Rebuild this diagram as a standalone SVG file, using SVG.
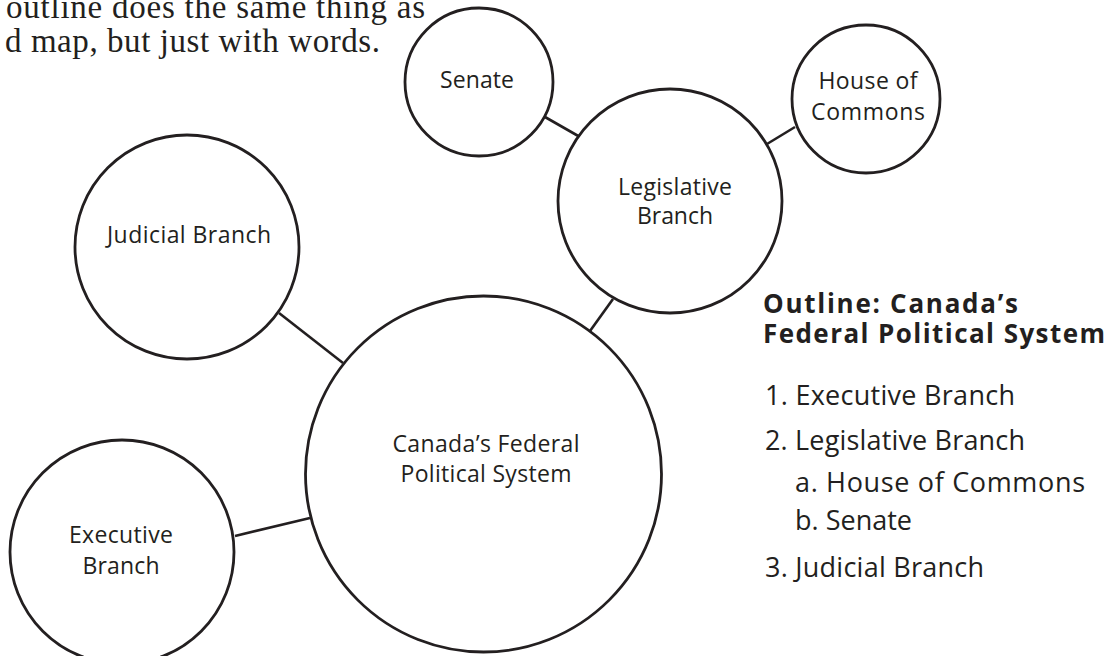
<svg xmlns="http://www.w3.org/2000/svg" width="1114" height="656" viewBox="0 0 1114 656">
<style>
.c{fill:#fff;stroke:#231f20;stroke-width:2.8}
.l{stroke:#231f20;stroke-width:2.6;fill:none}
.t{font-family:"Open Sans","Noto Sans",sans-serif;font-size:23px;fill:#231f20;text-anchor:middle}
.s{font-family:"Liberation Serif","Times New Roman",serif;font-size:33px;fill:#231f20}
.h{font-family:"Open Sans","Noto Sans",sans-serif;font-size:26px;font-weight:bold;fill:#231f20}
.o{font-family:"Open Sans","Noto Sans",sans-serif;font-size:27px;fill:#231f20}
</style>
<rect width="1114" height="656" fill="#fff"/>
<g id="intro">
<text class="s" x="6" y="18" textLength="419" lengthAdjust="spacing">outline does the same thing as</text>
<text class="s" x="5" y="52" textLength="375" lengthAdjust="spacing">d map, but just with words.</text>
</g>
<g id="connectors">
<line class="l" x1="545" y1="117" x2="580" y2="137"/>
<line class="l" x1="767" y1="144" x2="795" y2="127"/>
<line class="l" x1="279" y1="313" x2="343" y2="363"/>
<line class="l" x1="613" y1="299" x2="590" y2="331"/>
<line class="l" x1="235" y1="536" x2="310" y2="518"/>
</g>
<g id="senate">
<circle class="c" cx="479" cy="82" r="74"/>
<text class="t" x="477" y="88" textLength="74">Senate</text>
</g>
<g id="house">
<circle class="c" cx="866" cy="99" r="74"/>
<text class="t" x="868" y="89" textLength="99">House of</text>
<text class="t" x="868" y="120" textLength="114">Commons</text>
</g>
<g id="legislative">
<circle class="c" cx="670" cy="201" r="112"/>
<text class="t" x="675" y="195" textLength="114">Legislative</text>
<text class="t" x="675" y="224" textLength="76">Branch</text>
</g>
<g id="judicial">
<circle class="c" cx="187" cy="247" r="112"/>
<text class="t" x="189" y="243" textLength="164">Judicial Branch</text>
</g>
<g id="executive">
<circle class="c" cx="122" cy="552" r="112"/>
<text class="t" x="121" y="543" textLength="104">Executive</text>
<text class="t" x="121" y="574" textLength="77">Branch</text>
</g>
<g id="federal">
<circle class="c" cx="483.5" cy="474" r="178"/>
<text class="t" x="486" y="452" textLength="187">Canada’s Federal</text>
<text class="t" x="486" y="482" textLength="171">Political System</text>
</g>
<g id="outline">
<text class="h" x="763" y="313" textLength="255" lengthAdjust="spacing">Outline: Canada’s</text>
<text class="h" x="763" y="343" textLength="342" lengthAdjust="spacing">Federal Political System</text>
<text class="o" x="765" y="405" textLength="250">1. Executive Branch</text>
<text class="o" x="765" y="450" textLength="260">2. Legislative Branch</text>
<text class="o" x="795" y="492" textLength="290">a. House of Commons</text>
<text class="o" x="795" y="530" textLength="117">b. Senate</text>
<text class="o" x="765" y="577" textLength="219">3. Judicial Branch</text>
</g>
</svg>
